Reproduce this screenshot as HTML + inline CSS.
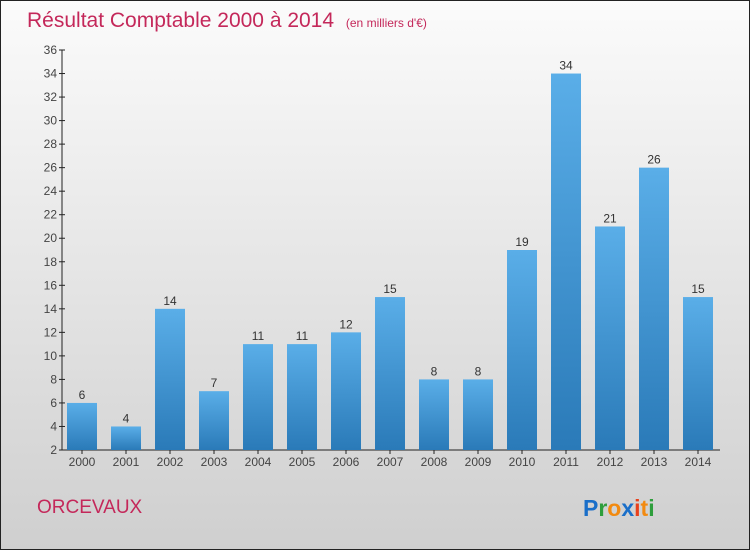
<!DOCTYPE html>
<html><head><meta charset="utf-8"><style>
body{margin:0;width:750px;height:550px;overflow:hidden}
svg{display:block;font-family:"Liberation Sans",sans-serif}
</style></head><body>
<svg id="c" width="750" height="550">
<defs>
<linearGradient id="bg" x1="0" y1="0" x2="0" y2="1"><stop offset="0" stop-color="#fbfbfb"/><stop offset="1" stop-color="#cfcfcf"/></linearGradient>
<linearGradient id="bar" x1="0" y1="0" x2="0" y2="1"><stop offset="0" stop-color="#5aaee8"/><stop offset="1" stop-color="#2a7ab8"/></linearGradient>
</defs>
<rect x="0.5" y="0.5" width="749" height="549" fill="url(#bg)" stroke="#222"/>
<text x="27" y="27" font-size="21" fill="#c4285a">Résultat Comptable 2000 à 2014 <tspan font-size="12" dx="6">(en milliers d'€)</tspan></text>
<text x="37" y="513" font-size="19" fill="#c4285a">ORCEVAUX</text>
<g font-size="23" font-weight="bold">
<text x="583" y="516"><tspan fill="#1a6fc9">P</tspan><tspan fill="#2e9e3c">r</tspan><tspan fill="#f28a10">o</tspan><tspan fill="#1a6fc9">x</tspan><tspan fill="#e8401c">i</tspan><tspan fill="#f28a10">t</tspan><tspan fill="#2e9e3c">i</tspan></text>
</g>
<g id="plot"></g>
</svg>
<script>
const years=["2000","2001","2002","2003","2004","2005","2006","2007","2008","2009","2010","2011","2012","2013","2014"];
const values=[6,4,14,7,11,11,12,15,8,8,19,34,21,26,15];
const yTicks=[2,4,6,8,10,12,14,16,18,20,22,24,26,28,30,32,34,36];
const ns="http://www.w3.org/2000/svg";
const g=document.getElementById('plot');
const y=v=>450-(v-2)*(400/34);
const x=i=>82+i*44;
function mk(t,a,txt){const e=document.createElementNS(ns,t);for(const k in a)e.setAttribute(k,a[k]);if(txt!==undefined)e.textContent=txt;g.appendChild(e);return e;}
let ax=mk('line',{x1:62,y1:50,x2:62,y2:450,stroke:'#222'});


let bx=mk('line',{x1:62,y1:450,x2:720,y2:450,stroke:'#222'});


yTicks.forEach(v=>{
 mk('line',{x1:59,y1:y(v),x2:65,y2:y(v),stroke:'#222'});
 let t=mk('text',{x:57,y:y(v)+4,'font-size':12,'text-anchor':'end',fill:'#444'},v);
 
 
});
years.forEach((yr,i)=>{
 let r=mk('rect',{x:x(i)-15,y:y(values[i]),width:30,height:450-y(values[i]),fill:'url(#bar)'});
 
 
 let l=mk('text',{x:x(i),y:y(values[i])-4,'font-size':12,'text-anchor':'middle',fill:'#333'},values[i]);
 
 
 mk('line',{x1:x(i),y1:450,x2:x(i),y2:454,stroke:'#222'});
 let t=mk('text',{x:x(i),y:466,'font-size':12,'text-anchor':'middle',fill:'#444'},yr);
 
 
});
</script>
</body></html>
